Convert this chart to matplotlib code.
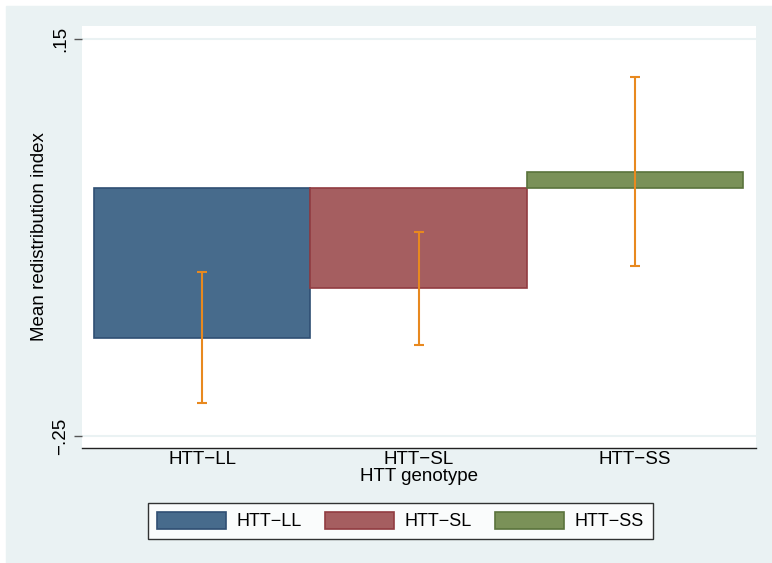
import numpy as np
import matplotlib.pyplot as plt
from matplotlib.patches import Rectangle, Patch

plt.rcParams['font.family'] = ['Liberation Sans', 'DejaVu Sans']

# dados
genotipos = ['HTT\u2212LL', 'HTT\u2212SL', 'HTT\u2212SS']
medias = [-0.151, -0.101, 0.016]
erro_inf = [-0.217, -0.158, -0.079]
erro_sup = [-0.085, -0.044, 0.112]
yticks = [0.15, -0.25]
ytick_labels = ['.15', '\u2212.25']

cores = ['#476b8c', '#a55e60', '#7a9158']
bordas = ['#2f4f73', '#913c41', '#5a733c']
cor_erro = '#e8891f'
fundo = '#eaf2f3'

W, H = 772, 563
fig = plt.figure(figsize=(W / 100, H / 100), dpi=100, facecolor='white')
fig.patches.append(Rectangle((6 / W, 0), 1 - 6 / W, 1 - 6 / H,
                             transform=fig.transFigure, color=fundo, zorder=-10))

ax = fig.add_axes([82 / W, (H - 448) / H, 674 / W, 422 / H])
ax.set_facecolor('white')

x = np.arange(1, len(genotipos) + 1)
for i in range(len(genotipos)):
    ax.bar(x[i], medias[i], width=1.0, bottom=0, color=cores[i],
           edgecolor=bordas[i], linewidth=1.2, zorder=2)

yerr = [np.array(medias) - np.array(erro_inf), np.array(erro_sup) - np.array(medias)]
ax.errorbar(x, medias, yerr=yerr, fmt='none', ecolor=cor_erro, elinewidth=1.5,
            capsize=3.6, capthick=1.5, zorder=3)

ax.set_xlim(0.4444, 3.56)
ax.set_ylim(-0.2621, 0.1631)

ax.set_yticks(yticks)
ax.set_yticklabels(ytick_labels, rotation=90, va='center', fontsize=13.5)
ax.set_xticks(x)
ax.set_xticklabels(genotipos, fontsize=13.5)
ax.tick_params(axis='x', length=0, pad=2)
ax.tick_params(axis='y', length=6, width=1, color='#555555', pad=3)
ax.grid(True, axis='y', color=fundo, linewidth=1.5, zorder=0)
ax.set_axisbelow(True)

for lado in ['left', 'top', 'right']:
    ax.spines[lado].set_visible(False)
ax.spines['bottom'].set_color('#222222')
ax.spines['bottom'].set_linewidth(1.0)

ax.set_xlabel('HTT genotype', fontsize=13.5, labelpad=0)
ax.set_ylabel('Mean redistribution index', fontsize=13.5, labelpad=3)

handles = [Patch(facecolor=cores[i], edgecolor=bordas[i], linewidth=1.2)
           for i in range(len(genotipos))]
leg = fig.legend(handles, genotipos, loc='center', ncol=3,
                 bbox_to_anchor=(400.5 / W, 1 - 521 / H), fontsize=13,
                 frameon=True, fancybox=False, edgecolor='black',
                 handlelength=3.8, handleheight=1.1, handletextpad=0.6,
                 columnspacing=1.3, borderpad=0.5, borderaxespad=0)
leg.get_frame().set_linewidth(1.0)

plt.savefig('out.png', dpi=100, facecolor='white')
